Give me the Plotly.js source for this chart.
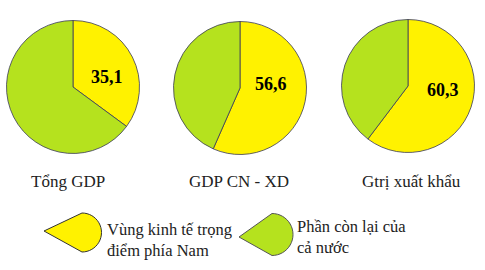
<!DOCTYPE html>
<html>
<head>
<meta charset="utf-8">
<script src="https://cdn.plot.ly/plotly-3.0.1.min.js"></script>
<style>html,body{margin:0;padding:0;background:#fff;}#chart{width:485px;height:270px;}</style>
</head>
<body>
<div id="chart"></div>
<script>
// Data
var chartNames = ["Tổng GDP", "GDP CN - XD", "Gtrị xuất khẩu"];
var southernShare = [35.1, 56.6, 60.3];
var seriesNames = ["Vùng kinh tế trọng<br>điểm phía Nam", "Phần còn lại của<br>cả nước"];
var seriesColors = ["#FFF200", "#B5E21E"];

var W = 485, H = 270;
var SERIF = "Liberation Serif";
function px(x){ return x / W; }
function py(y){ return 1 - y / H; }

// pie centers / radius in pixels (layout only)
var centersX = [73, 240, 408];
var centersY = [87, 88, 86];
var R = 66.5;
// value label positions (pixels)
var valLabelX = [107, 271, 443];
var valLabelY = [77, 84, 90];

var data = southernShare.map(function(v, i){
  return {
    type: "pie",
    values: [v, +(100 - v).toFixed(1)],
    labels: ["a", "b"],
    textinfo: "none",
    sort: false,
    direction: "clockwise",
    rotation: 0,
    marker: {colors: seriesColors, line: {color: "#3a3a5a", width: 0.8}},
    domain: {
      x: [px(centersX[i] - R), px(centersX[i] + R)],
      y: [py(centersY[i] + R), py(centersY[i] - R)]
    },
    hoverinfo: "none",
    showlegend: false
  };
});

var annotations = southernShare.map(function(v, i){
  return {
    text: "<b>" + String(v).replace(".", ",") + "</b>", xref: "paper", yref: "paper",
    x: px(valLabelX[i]), y: py(valLabelY[i]), xanchor: "center", yanchor: "middle",
    showarrow: false,
    font: {family: SERIF, size: 18, color: "#000"}
  };
});
var titleX = [68, 239, 411];
chartNames.forEach(function(n, i){
  annotations.push({
    text: n, xref: "paper", yref: "paper",
    x: px(titleX[i]), y: py(181), xanchor: "center", yanchor: "middle",
    showarrow: false,
    font: {family: SERIF, size: 17, color: "#222"}
  });
});
annotations.push({
  text: seriesNames[0], xref: "paper", yref: "paper",
  x: px(105), y: py(240), xanchor: "left", yanchor: "middle", align: "left",
  showarrow: false, font: {family: SERIF, size: 16.5, color: "#222"}
});
annotations.push({
  text: seriesNames[1], xref: "paper", yref: "paper",
  x: px(295), y: py(236.5), xanchor: "left", yanchor: "middle", align: "left",
  showarrow: false, font: {family: SERIF, size: 16.5, color: "#222"}
});

// legend teardrop symbols: straight lines from tip to a right-side semicircle
function drop(tipX, tipY, cx, cy, r){
  var p = "M" + px(tipX) + "," + py(tipY) + " L" + px(cx) + "," + py(cy - r);
  for (var k = 1; k <= 24; k++){
    var a = -Math.PI/2 + Math.PI * k / 24;
    p += " L" + px(cx + r * Math.cos(a)) + "," + py(cy + r * Math.sin(a));
  }
  return p + " Z";
}
var shapes = [
  {type: "path", xref: "paper", yref: "paper", path: drop(44, 231, 82, 232.5, 19.5),
   fillcolor: seriesColors[0], line: {color: "#333", width: 1}},
  {type: "path", xref: "paper", yref: "paper", path: drop(239, 237, 272, 234.5, 21),
   fillcolor: seriesColors[1], line: {color: "#555", width: 1}}
];

var layout = {
  width: W, height: H,
  margin: {l: 0, r: 0, t: 0, b: 0},
  paper_bgcolor: "#fff",
  font: {family: SERIF},
  annotations: annotations,
  shapes: shapes,
  showlegend: false
};

Plotly.newPlot("chart", data, layout, {staticPlot: true, displayModeBar: false});
</script>
</body>
</html>
